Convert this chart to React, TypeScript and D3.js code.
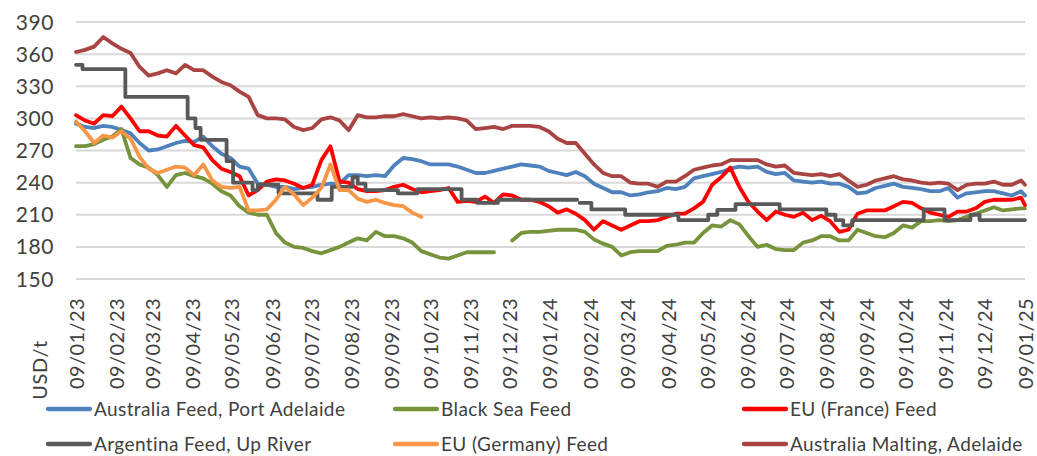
import React from 'react';
import * as d3 from 'd3';

// ---- Data ----
const START = new Date(2023, 0, 9);
const END = new Date(2025, 0, 9);
// weekly observation dates (w0..w104) plus final date
const obsDates: Date[] = [...d3.range(105).map((i) => d3.timeDay.offset(START, i * 7)), END];

const australiaFeed: (number | null)[] = [
  295, 292, 291, 293, 292, 289, 286, 277, 270, 271, 274, 277, 279, 278, 283, 274, 267, 263, 255, 253, 239, 238, 236, 236, 234, 235, 236,
  238, 239, 239, 247, 247, 246, 247, 246, 256, 263, 262, 260, 257, 257, 257, 255, 252, 249, 249, 251, 253, 255, 257, 256, 255,
  251, 249, 247, 250, 246, 239, 235, 231, 231, 228, 229, 231, 232, 235, 234, 236, 244, 246, 248, 250, 253, 255, 254, 255, 250, 248, 249,
  242, 241, 240, 241, 239, 239, 236, 230, 231, 235, 237, 239, 236, 235, 234, 232, 232, 235, 226, 230, 231, 232, 232, 230, 228, 232,
  228,
];

const blackSeaFeed: (number | null)[] = [
  274, 274, 276, 280, 283, 290, 263, 257, 254, 247, 236, 247, 249, 246, 244, 239, 232, 228, 218, 212, 210, 210, 193, 184, 180, 179, 176,
  174, 177, 180, 184, 188, 186, 194, 190, 190, 188, 184, 176, 173, 170, 169, 172, 175, 175, 175, 175, null, 186, 193, 194, 194,
  195, 196, 196, 196, 194, 187, 183, 180, 172, 175, 176, 176, 176, 181, 182, 184, 184, 193, 200, 199, 205, 201, 190, 180, 182, 178, 177,
  177, 184, 186, 190, 190, 186, 186, 196, 193, 190, 189, 193, 200, 198, 204, 204, 205, 204, 205, 208, 211, 214, 217, 214, 215, 216,
  216,
];

const euFranceFeed: (number | null)[] = [
  303, 298, 295, 303, 302, 311, 300, 288, 288, 284, 283, 293, 284, 275, 273, 261, 253, 250, 246, 228, 233, 241, 243, 242, 239, 235, 238,
  261, 274, 241, 240, 234, 232, 232, 233, 236, 238, 234, 231, 232, 233, 235, 222, 223, 222, 227, 221, 229, 228, 224, 224, 222,
  218, 212, 215, 211, 205, 196, 204, 200, 196, 200, 204, 204, 205, 208, 211, 211, 216, 222, 238, 245, 254, 236, 222, 213, 205, 213, 210,
  208, 212, 205, 209, 204, 194, 196, 211, 214, 214, 214, 218, 222, 221, 216, 212, 210, 208, 213, 213, 216, 222, 224, 224, 224, 226,
  219,
];

const euGermanyFeed: (number | null)[] = [
  297, 288, 277, 284, 282, 288, 281, 264, 253, 249, 252, 255, 254, 247, 257, 242, 236, 235, 236, 214, 214, 215, 224, 236, 229, 219, 226,
  235, 257, 233, 233, 225, 222, 224, 221, 219, 218, 212, 208,
];

const australiaMalting: (number | null)[] = [
  362, 364, 367, 376, 370, 365, 361, 348, 340, 342, 345, 342, 350, 345, 345, 339, 334, 331, 325, 320, 303, 300, 300, 299, 292, 289, 291,
  299, 301, 298, 289, 303, 301, 301, 302, 302, 304, 302, 300, 301, 300, 301, 300, 298, 290, 291, 292, 290, 293, 293, 293, 292,
  288, 281, 277, 277, 267, 257, 249, 246, 246, 240, 239, 239, 236, 241, 241, 246, 252, 254, 256, 257, 261, 261, 261, 261, 257, 255, 256,
  249, 248, 247, 248, 246, 248, 242, 236, 238, 242, 244, 246, 243, 242, 240, 239, 240, 239, 233, 238, 239, 239, 241, 238, 238, 242,
  238,
];

// Argentina: step changes
const argentinaDates = [
  '2023-01-09', '2023-01-14', '2023-02-16', '2023-04-05', '2023-04-11', '2023-04-15', '2023-05-05', '2023-05-10',
  '2023-05-25', '2023-05-29', '2023-06-14', '2023-07-14', '2023-07-25', '2023-08-10', '2023-08-14', '2023-08-20',
  '2023-09-14', '2023-09-29', '2023-11-02', '2023-11-14', '2023-11-30', '2024-01-30', '2024-01-31', '2024-02-01',
  '2024-02-10', '2024-03-07', '2024-04-17', '2024-05-10', '2024-05-17', '2024-05-31', '2024-07-04', '2024-08-09',
  '2024-08-16', '2024-08-22', '2024-08-29', '2024-10-23', '2024-11-08', '2024-11-28', '2024-12-05', '2025-01-09',
];
const argentinaValues: (number | null)[] = [
  350, 346, 320, 300, 291, 280, 260, 240,
  233, 238, 230, 224, 236, 245, 239, 233,
  230, 234, 224, 221, 224, 224, null, 221,
  215, 210, 205, 210, 214.5, 220, 215, 210,
  205, 200, 205, 215, 205, 210, 205, 205,
];

const seriesNames = [
  'Australia Feed, Port Adelaide',
  'Black Sea Feed',
  'EU (France) Feed',
  'Argentina Feed, Up River',
  'EU (Germany) Feed',
  'Australia Malting, Adelaide',
];
const seriesColors = ['#4F81BD', '#77933C', '#FF0000', '#595959', '#F79646', '#A94442'];

const yTicks = [150, 180, 210, 240, 270, 300, 330, 360, 390];
const xTickDates = d3.range(25).map((i) => d3.timeMonth.offset(START, i));
const fmt = d3.timeFormat('%d/%m/%y');

const W = 1037;
const H = 456;
const FONT = 'Lato, "Open Sans", sans-serif';
const TEXT = '#404040';

export default function App() {
  const x = d3.scaleTime().domain([START, END]).range([76, 1025]);
  const y = d3.scaleLinear().domain([150, 390]).range([279, 22]);
  const parse = d3.timeParse('%Y-%m-%d');

  const weeklyLine = d3
    .line<number | null>()
    .defined((v) => v != null)
    .x((_, i) => x(obsDates[i]))
    .y((v) => y(v as number));

  const argDates = argentinaDates.map((s) => parse(s) as Date);
  const argLine = d3
    .line<number | null>()
    .defined((v) => v != null)
    .x((_, i) => x(argDates[i]))
    .y((v) => y(v as number))
    .curve(d3.curveStepAfter);

  const paths = [
    weeklyLine(australiaFeed),
    weeklyLine(blackSeaFeed),
    weeklyLine(euFranceFeed),
    argLine(argentinaValues),
    weeklyLine(euGermanyFeed),
    weeklyLine(australiaMalting),
  ];

  const legendCols = [48, 395, 744];
  const legendRows = [409, 444];

  return (
    <svg
      width={W}
      height={H}
      style={{ position: 'absolute', left: 0, top: 0, background: '#fff' }}
      fontFamily={FONT}
    >
      {yTicks.map((t) => (
        <g key={t}>
          <line x1={76} x2={1025} y1={y(t)} y2={y(t)} stroke="#D9D9D9" strokeWidth={2} />
          <text x={54} y={y(t)} dy="0.36em" textAnchor="end" fontSize={21} letterSpacing={0.6} fill={TEXT}>
            {t}
          </text>
        </g>
      ))}
      {xTickDates.map((d, i) => (
        <text
          key={i}
          transform={`translate(${x(d)},298) rotate(-90)`}
          dy="0.38em"
          textAnchor="end"
          fontSize={20}
          letterSpacing={0.4}
          fill={TEXT}
        >
          {fmt(d)}
        </text>
      ))}
      <text transform="translate(40,370) rotate(-90)" dy="0.36em" textAnchor="middle" fontSize={20} letterSpacing={0.6} fill={TEXT}>
        USD/t
      </text>
      {paths.map((p, i) => (
        <path
          key={i}
          d={p || ''}
          fill="none"
          stroke={seriesColors[i]}
          strokeWidth={3.8}
          strokeLinejoin="round"
          strokeLinecap="round"
        />
      ))}
      {seriesNames.map((name, i) => {
        const lx = legendCols[i % 3];
        const ly = legendRows[Math.floor(i / 3)];
        return (
          <g key={name}>
            <line x1={lx} x2={lx + 42} y1={ly} y2={ly} stroke={seriesColors[i]} strokeWidth={4.3} strokeLinecap="round" />
            <text x={lx + 46} y={ly} dy="0.36em" fontSize={19} letterSpacing={0.4} fill={TEXT}>
              {name}
            </text>
          </g>
        );
      })}
    </svg>
  );
}
